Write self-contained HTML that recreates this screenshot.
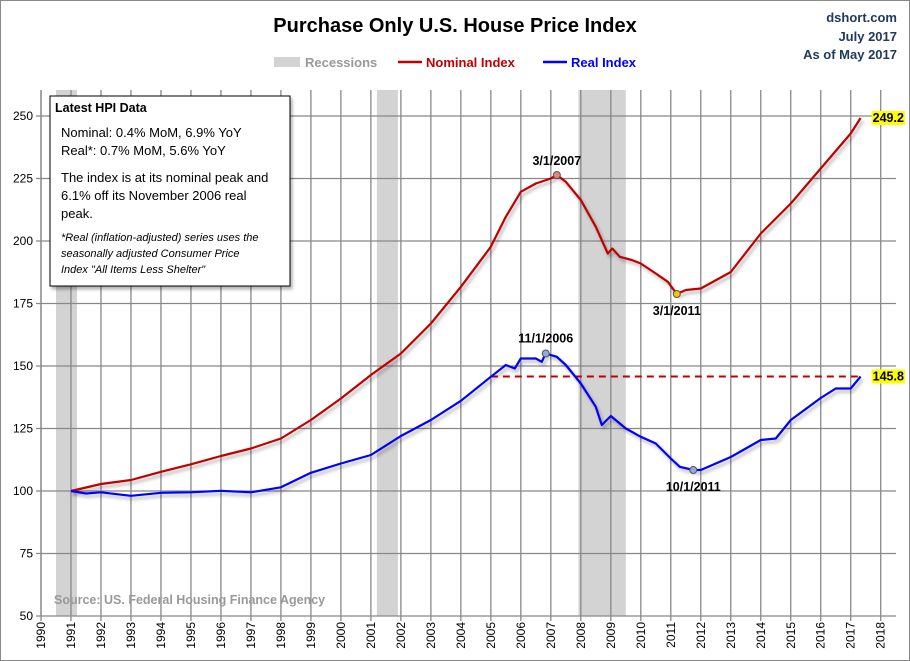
<!DOCTYPE html>
<html><head><meta charset="utf-8"><style>
body{margin:0;background:#fff;}
svg{display:block;font-family:"Liberation Sans",sans-serif;}
</style></head><body>
<svg id="chart" width="910" height="661" viewBox="0 0 910 661">
<defs><filter id="sh" x="-5%" y="-5%" width="110%" height="110%"><feDropShadow dx="2" dy="3" stdDeviation="1.5" flood-color="#000" flood-opacity="0.3"/></filter></defs>
<rect x="0.5" y="0.5" width="909" height="660" fill="#fff" stroke="#888"/>
<g id="rec"></g><g id="grid"></g><g id="axes"></g><g id="series"></g>
<text x="455" y="32" text-anchor="middle" font-size="20" font-weight="bold" fill="#000">Purchase Only U.S. House Price Index</text>
<g font-size="13" font-weight="bold" fill="#1f3a60" text-anchor="end">
<text x="897" y="22">dshort.com</text><text x="897" y="41">July 2017</text><text x="897" y="59">As of May 2017</text></g>
<g font-size="13" font-weight="bold">
<rect x="274" y="57" width="26" height="10" fill="#d3d3d3"/>
<text x="305" y="67" fill="#999">Recessions</text>
<line x1="398" y1="62" x2="422" y2="62" stroke="#c00000" stroke-width="2.5"/>
<text x="426" y="67" fill="#c00000">Nominal Index</text>
<line x1="543" y1="62" x2="567" y2="62" stroke="#0000ff" stroke-width="2.5"/>
<text x="571" y="67" fill="#0000ff">Real Index</text></g>
<g>
<rect x="50" y="96" width="240" height="190" fill="#fff" stroke="#000" stroke-width="1" filter="url(#sh)"/>
<text x="55" y="112" font-size="12.5" font-weight="bold">Latest HPI Data</text>
<text x="61" y="137" font-size="13">Nominal:  0.4% MoM, 6.9% YoY</text>
<text x="61" y="155" font-size="13">Real*:  0.7% MoM, 5.6% YoY</text>
<text x="61" y="182" font-size="13">The index is at its nominal peak and</text>
<text x="61" y="200" font-size="13">6.1% off its November 2006 real</text>
<text x="61" y="218" font-size="13">peak.</text>
<text x="61" y="241" font-size="11" font-style="italic">*Real (inflation-adjusted) series uses the</text>
<text x="61" y="257" font-size="11" font-style="italic">seasonally adjusted Consumer Price</text>
<text x="61" y="273" font-size="11" font-style="italic">Index "All Items Less Shelter"</text></g>
<text x="54" y="604" font-size="12.5" font-weight="bold" fill="#999">Source: US. Federal Housing Finance Agency</text>
</svg>
<script>
const recessionStarts=[1990.5,2001.2,2007.92];
const recessionEnds=[1991.2,2001.9,2009.5];
const yTicks=[50,75,100,125,150,175,200,225,250];
const xTickYears=[1990,1991,1992,1993,1994,1995,1996,1997,1998,1999,2000,2001,2002,2003,2004,2005,2006,2007,2008,2009,2010,2011,2012,2013,2014,2015,2016,2017,2018];
const nomYears=[1991,1992,1993,1994,1995,1996,1997,1998,1999,2000,2001,2002,2003,2004,2005,2005.5,2006,2006.5,2007,2007.2,2007.5,2008,2008.5,2008.9,2009.05,2009.3,2009.7,2010,2010.5,2010.9,2011.2,2011.5,2012,2013,2014,2015,2016,2017,2017.33];
const nomValues=[100,102.8,104.4,107.7,110.7,114,117,121,128.4,137,146.4,155,167,181.7,197.7,209.7,219.7,223,225,226.4,223.7,216.4,205.7,195,197,193.7,192.4,191,187,183.7,178.8,180.4,181,187.6,203,215,229,243,249.2];
const realYears=[1991,1991.5,1992,1993,1994,1995,1996,1997,1998,1999,2000,2001,2002,2003,2004,2005,2005.5,2005.8,2006,2006.5,2006.7,2006.83,2007.2,2007.5,2008,2008.5,2008.7,2009,2009.5,2010,2010.5,2011,2011.3,2011.75,2012,2013,2014,2014.5,2015,2016,2016.5,2017,2017.33];
const realValues=[100,99,99.5,98.1,99.3,99.5,100.1,99.5,101.5,107.3,111,114.4,122,128.4,136.1,145.7,150.4,149,153,153,151.7,155,153.7,150.4,143,133.7,126.4,130,125,121.7,119,113,109.7,108.4,108.4,113.6,120.4,121,128.4,137.2,141,141,145.8];
const NS="http://www.w3.org/2000/svg";
const L=41,R=896,T=90,B=616;
const X=y=>L+(y-1990)*29.99;
const Y=v=>B-(v-50)*2.5;
function mk(tag,at,parent){const e=document.createElementNS(NS,tag);for(const k in at)e.setAttribute(k,at[k]);document.getElementById(parent).appendChild(e);return e;}
recessionStarts.forEach((s,i)=>{const r=mk('rect',{x:X(s),y:T,width:X(recessionEnds[i])-X(s),height:B-T,fill:'#d3d3d3'},'rec');

});
yTicks.forEach(v=>{const l=mk('line',{x1:L-5,x2:R,y1:Y(v),y2:Y(v),stroke:'#888','stroke-width':1.3},'grid');


const t=mk('text',{x:L-8,y:Y(v)+4,'text-anchor':'end','font-size':12},'axes');t.textContent=v;

});
xTickYears.forEach(yr=>{const l=mk('line',{x1:X(yr),x2:X(yr),y1:T,y2:B+5,stroke:'#888','stroke-width':1.3},'grid');


const t=mk('text',{x:0,y:0,'text-anchor':'end','font-size':12,transform:`translate(${X(yr)+4},${B+6}) rotate(-90)`},'axes');t.textContent=yr;

});
mk('line',{x1:L,x2:L,y1:T,y2:B,stroke:'#888','stroke-width':1.3},'axes');
function path(xs,vs){return xs.map((x,i)=>(i?'L':'M')+X(x).toFixed(1)+','+Y(vs[i]).toFixed(1)).join(' ');}
const lastR=realValues[realValues.length-1],lastN=nomValues[nomValues.length-1];
const lastX=realYears[realYears.length-1];
const dl=mk('line',{x1:X(2005),x2:X(lastX),y1:Y(lastR),y2:Y(lastR),stroke:'#c00000','stroke-width':2,'stroke-dasharray':'7,5'},'series');


const pn=mk('path',{d:path(nomYears,nomValues),fill:'none',stroke:'#c00000','stroke-width':2.2,'stroke-linejoin':'round',filter:'url(#sh)'},'series');


const pr=mk('path',{d:path(realYears,realValues),fill:'none',stroke:'#0000ff','stroke-width':2.2,'stroke-linejoin':'round',filter:'url(#sh)'},'series');


function marker(yr,v,fill,label,dy,name){const c=mk('circle',{cx:X(yr),cy:Y(v),r:3.5,fill:fill,stroke:'#555'},'series');


const t=mk('text',{x:X(yr),y:Y(v)+dy,'text-anchor':'middle','font-size':12.5,'font-weight':'bold'},'series');t.textContent=label;

}
marker(2007.2,226.4,'#f08080','3/1/2007',-10,'nominal-peak-marker');
marker(2011.2,178.8,'#ffc000','3/1/2011',21,'nominal-trough-marker');
marker(2006.83,155,'#8faadc','11/1/2006',-11,'real-peak-marker');
marker(2011.75,108.4,'#8faadc','10/1/2011',21,'real-trough-marker');
function endLabel(v,name){const t=mk('text',{x:X(lastX)+12,y:Y(v)+4,'font-size':12.5,'font-weight':'bold'},'series');t.textContent=v.toFixed(1);


const b=t.getBBox();const r=mk('rect',{x:b.x-1,y:b.y,width:b.width+2,height:b.height,fill:'#ffff00'},'series');


t.parentNode.appendChild(t);}
endLabel(lastN,'nominal-last-value');
endLabel(lastR,'real-last-value');
</script>
</body></html>
